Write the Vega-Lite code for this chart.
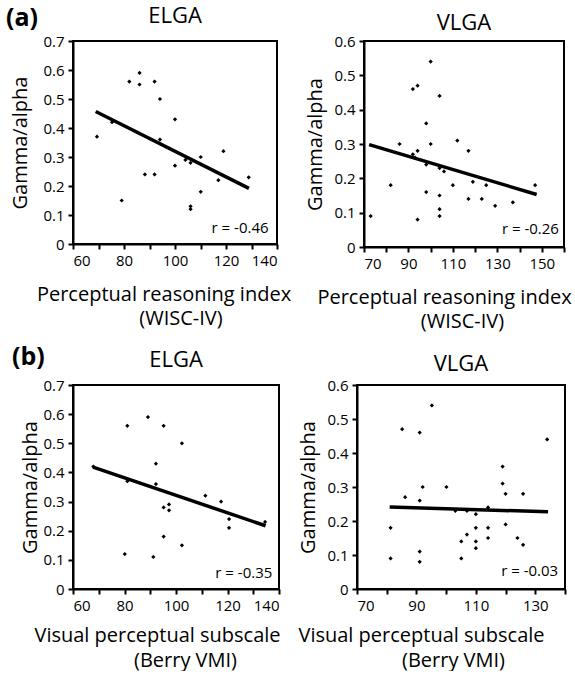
{
"$schema": "https://vega.github.io/schema/vega-lite/v6.json",
"background": "white",
"padding": {"left": 5, "top": 4, "right": 0, "bottom": 0},
"config": {
  "font": "Open Sans",
  "view": {"stroke": "black", "strokeWidth": 2},
  "axis": {"grid": false, "domainColor": "black", "domainWidth": 2, "tickColor": "black", "tickWidth": 2, "tickSize": 5,
           "labelFont": "Open Sans", "labelFontSize": 15, "labelColor": "black", "labelPadding": 4, "labelOverlap": false,
           "titleFont": "Open Sans", "titleFontSize": 20, "titleFontWeight": "normal", "titleColor": "black"},
  "title": {"font": "Open Sans", "fontWeight": "normal", "fontSize": 22, "color": "black"}
},
"datasets": {
  "pts": [
    {"panel":"a1","x":69.4,"y":0.37},{"panel":"a1","x":75.3,"y":0.42},{"panel":"a1","x":79.1,"y":0.15},{"panel":"a1","x":82.1,"y":0.56},
    {"panel":"a1","x":86.1,"y":0.59},{"panel":"a1","x":86.1,"y":0.55},{"panel":"a1","x":88.2,"y":0.24},{"panel":"a1","x":92.0,"y":0.56},
    {"panel":"a1","x":92.0,"y":0.24},{"panel":"a1","x":94.1,"y":0.50},{"panel":"a1","x":94.1,"y":0.36},{"panel":"a1","x":100.0,"y":0.43},
    {"panel":"a1","x":100.0,"y":0.27},{"panel":"a1","x":104.1,"y":0.29},{"panel":"a1","x":106.1,"y":0.28},{"panel":"a1","x":106.1,"y":0.13},
    {"panel":"a1","x":106.1,"y":0.12},{"panel":"a1","x":110.1,"y":0.30},{"panel":"a1","x":110.1,"y":0.18},{"panel":"a1","x":117.0,"y":0.22},
    {"panel":"a1","x":119.0,"y":0.32},{"panel":"a1","x":128.9,"y":0.23},
    {"panel":"a2","x":73,"y":0.09},{"panel":"a2","x":82,"y":0.18},{"panel":"a2","x":86,"y":0.30},{"panel":"a2","x":92,"y":0.46},
    {"panel":"a2","x":92,"y":0.27},{"panel":"a2","x":94.1,"y":0.47},{"panel":"a2","x":94.1,"y":0.28},{"panel":"a2","x":94.1,"y":0.08},
    {"panel":"a2","x":93,"y":0.26},{"panel":"a2","x":98,"y":0.36},{"panel":"a2","x":98,"y":0.24},{"panel":"a2","x":98,"y":0.16},
    {"panel":"a2","x":100,"y":0.54},{"panel":"a2","x":100,"y":0.30},{"panel":"a2","x":104,"y":0.44},{"panel":"a2","x":104,"y":0.23},
    {"panel":"a2","x":104,"y":0.15},{"panel":"a2","x":104,"y":0.11},{"panel":"a2","x":104,"y":0.09},{"panel":"a2","x":106,"y":0.22},
    {"panel":"a2","x":110,"y":0.18},{"panel":"a2","x":112,"y":0.31},{"panel":"a2","x":117,"y":0.28},{"panel":"a2","x":117,"y":0.14},
    {"panel":"a2","x":119,"y":0.19},{"panel":"a2","x":123,"y":0.14},{"panel":"a2","x":125,"y":0.18},{"panel":"a2","x":129,"y":0.12},
    {"panel":"a2","x":137,"y":0.13},{"panel":"a2","x":147,"y":0.18},
    {"panel":"b1","x":67.9,"y":0.42},{"panel":"b1","x":81.1,"y":0.56},{"panel":"b1","x":81.1,"y":0.37},{"panel":"b1","x":80.1,"y":0.12},
    {"panel":"b1","x":89.1,"y":0.59},{"panel":"b1","x":92.2,"y":0.43},{"panel":"b1","x":92.2,"y":0.36},{"panel":"b1","x":91.2,"y":0.11},
    {"panel":"b1","x":95.2,"y":0.56},{"panel":"b1","x":95.2,"y":0.28},{"panel":"b1","x":95.2,"y":0.18},{"panel":"b1","x":97.3,"y":0.29},
    {"panel":"b1","x":97.3,"y":0.27},{"panel":"b1","x":102.3,"y":0.50},{"panel":"b1","x":102.3,"y":0.15},{"panel":"b1","x":111.4,"y":0.32},
    {"panel":"b1","x":117.5,"y":0.30},{"panel":"b1","x":120.6,"y":0.24},{"panel":"b1","x":120.6,"y":0.21},{"panel":"b1","x":134.6,"y":0.23},
    {"panel":"b2","x":81.3,"y":0.18},{"panel":"b2","x":81.3,"y":0.09},{"panel":"b2","x":85.2,"y":0.47},{"panel":"b2","x":86.2,"y":0.27},
    {"panel":"b2","x":91.1,"y":0.46},{"panel":"b2","x":91.1,"y":0.26},{"panel":"b2","x":91.1,"y":0.11},{"panel":"b2","x":91.1,"y":0.08},
    {"panel":"b2","x":92.1,"y":0.30},{"panel":"b2","x":95.2,"y":0.54},{"panel":"b2","x":100.1,"y":0.30},{"panel":"b2","x":103.1,"y":0.23},
    {"panel":"b2","x":105.1,"y":0.14},{"panel":"b2","x":105.1,"y":0.09},{"panel":"b2","x":107,"y":0.16},{"panel":"b2","x":107,"y":0.23},
    {"panel":"b2","x":110,"y":0.22},{"panel":"b2","x":110,"y":0.18},{"panel":"b2","x":110,"y":0.14},{"panel":"b2","x":110,"y":0.12},
    {"panel":"b2","x":114.1,"y":0.24},{"panel":"b2","x":114.1,"y":0.18},{"panel":"b2","x":114.1,"y":0.15},{"panel":"b2","x":119,"y":0.36},
    {"panel":"b2","x":119,"y":0.31},{"panel":"b2","x":120,"y":0.28},{"panel":"b2","x":120,"y":0.19},{"panel":"b2","x":124,"y":0.15},
    {"panel":"b2","x":125.9,"y":0.28},{"panel":"b2","x":125.9,"y":0.13},{"panel":"b2","x":134,"y":0.44}
  ],
  "fits": [
    {"panel":"a1","x":68.9,"y":0.457},{"panel":"a1","x":129.0,"y":0.192},
    {"panel":"a2","x":72.3,"y":0.298},{"panel":"a2","x":147.7,"y":0.153},
    {"panel":"b1","x":67.8,"y":0.418},{"panel":"b1","x":134.8,"y":0.217},
    {"panel":"b2","x":81.0,"y":0.241},{"panel":"b2","x":134.3,"y":0.227}
  ],
  "stats": [
    {"panel":"a1","label":"r = -0.46"},{"panel":"a2","label":"r = -0.26"},
    {"panel":"b1","label":"r = -0.35"},{"panel":"b2","label":"r = -0.03"}
  ]
},
"vconcat": [
 {
  "title": {"text": "(a)", "anchor": "start", "fontSize": 25, "fontWeight": "bold", "offset": -27, "dx": -4},
  "spacing": 12,
  "hconcat": [
   {
    "width": 204, "height": 203,
    "title": {"text": "ELGA", "offset": 6},
    "resolve": {"axis": {"x": "independent"}},
    "layer": [
     {"data": {"name": "pts"}, "transform": [{"filter": "datum.panel == 'a1'"}],
      "mark": {"type": "point", "shape": "diamond", "filled": true, "color": "black", "size": 18, "opacity": 1},
      "encoding": {
        "x": {"field": "x", "type": "quantitative", "scale": {"domain": [60, 140], "nice": false, "zero": false},
              "axis": {"values": [60,70,80,90,100,110,120,130,140], "labelExpr": "datum.value % 20 == 0 ? datum.label : ''",
                       "title": "Perceptual reasoning index", "titleX": 90.5, "titleY": 56, "titleBaseline": "alphabetic", "titleAlign": "center"}},
        "y": {"field": "y", "type": "quantitative", "scale": {"domain": [0, 0.7], "nice": false, "zero": true},
              "axis": {"values": [0,0.1,0.2,0.3,0.4,0.5,0.6,0.7], "tickCount": 8, "format": ".1~f", "title": "Gamma/alpha", "titlePadding": 12}}
      }},
     {"data": {"name": "fits"}, "transform": [{"filter": "datum.panel == 'a1'"}],
      "mark": {"type": "line", "color": "black", "strokeWidth": 3.5},
      "encoding": {"x": {"field": "x", "type": "quantitative",
                         "axis": {"orient": "bottom", "domain": false, "ticks": false, "labels": false,
                                  "title": "(WISC-IV)", "titleX": 107.5, "titleY": 80, "titleBaseline": "alphabetic", "titleAlign": "center"}},
                   "y": {"field": "y", "type": "quantitative",
                         "axis": {"values": [0,0.1,0.2,0.3,0.4,0.5,0.6,0.7], "tickCount": 8, "format": ".1~f", "title": "Gamma/alpha", "titlePadding": 12}}}},
     {"data": {"name": "stats"}, "transform": [{"filter": "datum.panel == 'a1'"}],
      "mark": {"type": "text", "align": "right", "baseline": "alphabetic", "fontSize": 15, "color": "black"},
      "encoding": {"x": {"datum": 136.7, "axis": null},
                   "y": {"datum": 0.037, "axis": {"values": [0,0.1,0.2,0.3,0.4,0.5,0.6,0.7], "tickCount": 8, "format": ".1~f", "title": "Gamma/alpha", "titlePadding": 12}},
                   "text": {"field": "label"}}}
    ]
   },
   {
    "width": 200, "height": 206,
    "title": {"text": "VLGA", "offset": -1},
    "resolve": {"axis": {"x": "independent"}},
    "layer": [
     {"data": {"name": "pts"}, "transform": [{"filter": "datum.panel == 'a2'"}],
      "mark": {"type": "point", "shape": "diamond", "filled": true, "color": "black", "size": 18, "opacity": 1},
      "encoding": {
        "x": {"field": "x", "type": "quantitative", "scale": {"domain": [70, 160], "nice": false, "zero": false},
              "axis": {"values": [70,80,90,100,110,120,130,140,150,160], "labelExpr": "datum.value % 20 == 10 ? datum.label : ''",
                       "title": "Perceptual reasoning index", "titleX": 80, "titleY": 56, "titleBaseline": "alphabetic", "titleAlign": "center"}},
        "y": {"field": "y", "type": "quantitative", "scale": {"domain": [0, 0.6], "nice": false, "zero": true},
              "axis": {"values": [0,0.1,0.2,0.3,0.4,0.5,0.6], "tickCount": 7, "format": ".1~f", "title": "Gamma/alpha", "titlePadding": 8}}
      }},
     {"data": {"name": "fits"}, "transform": [{"filter": "datum.panel == 'a2'"}],
      "mark": {"type": "line", "color": "black", "strokeWidth": 3.5},
      "encoding": {"x": {"field": "x", "type": "quantitative",
                         "axis": {"orient": "bottom", "domain": false, "ticks": false, "labels": false,
                                  "title": "(WISC-IV)", "titleX": 98, "titleY": 80, "titleBaseline": "alphabetic", "titleAlign": "center"}},
                   "y": {"field": "y", "type": "quantitative",
                         "axis": {"values": [0,0.1,0.2,0.3,0.4,0.5,0.6], "tickCount": 7, "format": ".1~f", "title": "Gamma/alpha", "titlePadding": 8}}}},
     {"data": {"name": "stats"}, "transform": [{"filter": "datum.panel == 'a2'"}],
      "mark": {"type": "text", "align": "right", "baseline": "alphabetic", "fontSize": 15, "color": "black"},
      "encoding": {"x": {"datum": 157.7, "axis": null},
                   "y": {"datum": 0.037, "axis": {"values": [0,0.1,0.2,0.3,0.4,0.5,0.6], "tickCount": 7, "format": ".1~f", "title": "Gamma/alpha", "titlePadding": 8}},
                   "text": {"field": "label"}}}
    ]
   }
  ]
 },
 {
  "title": {"text": "(b)", "anchor": "start", "fontSize": 25, "fontWeight": "bold", "offset": -22, "dx": -8},
  "spacing": 14,
  "hconcat": [
   {
    "width": 206, "height": 204,
    "title": {"text": "ELGA", "offset": 6},
    "resolve": {"axis": {"x": "independent"}},
    "layer": [
     {"data": {"name": "pts"}, "transform": [{"filter": "datum.panel == 'b1'"}],
      "mark": {"type": "point", "shape": "diamond", "filled": true, "color": "black", "size": 18, "opacity": 1},
      "encoding": {
        "x": {"field": "x", "type": "quantitative", "scale": {"domain": [60, 140], "nice": false, "zero": false},
              "axis": {"values": [60,70,80,90,100,110,120,130,140], "labelExpr": "datum.value % 20 == 0 ? datum.label : ''",
                       "title": "Visual perceptual subscale", "titleX": 84, "titleY": 52, "titleBaseline": "alphabetic", "titleAlign": "center"}},
        "y": {"field": "y", "type": "quantitative", "scale": {"domain": [0, 0.7], "nice": false, "zero": true},
              "axis": {"values": [0,0.1,0.2,0.3,0.4,0.5,0.6,0.7], "tickCount": 8, "format": ".1~f", "title": "Gamma/alpha", "titlePadding": 2}}
      }},
     {"data": {"name": "fits"}, "transform": [{"filter": "datum.panel == 'b1'"}],
      "mark": {"type": "line", "color": "black", "strokeWidth": 3.5},
      "encoding": {"x": {"field": "x", "type": "quantitative",
                         "axis": {"orient": "bottom", "domain": false, "ticks": false, "labels": false,
                                  "title": "(Berry VMI)", "titleX": 112, "titleY": 77, "titleBaseline": "alphabetic", "titleAlign": "center"}},
                   "y": {"field": "y", "type": "quantitative",
                         "axis": {"values": [0,0.1,0.2,0.3,0.4,0.5,0.6,0.7], "tickCount": 8, "format": ".1~f", "title": "Gamma/alpha", "titlePadding": 2}}}},
     {"data": {"name": "stats"}, "transform": [{"filter": "datum.panel == 'b1'"}],
      "mark": {"type": "text", "align": "right", "baseline": "alphabetic", "fontSize": 15, "color": "black"},
      "encoding": {"x": {"datum": 137.4, "axis": null},
                   "y": {"datum": 0.037, "axis": {"values": [0,0.1,0.2,0.3,0.4,0.5,0.6,0.7], "tickCount": 8, "format": ".1~f", "title": "Gamma/alpha", "titlePadding": 2}},
                   "text": {"field": "label"}}}
    ]
   },
   {
    "width": 208, "height": 204,
    "title": {"text": "VLGA", "offset": 2},
    "resolve": {"axis": {"x": "independent"}},
    "layer": [
     {"data": {"name": "pts"}, "transform": [{"filter": "datum.panel == 'b2'"}],
      "mark": {"type": "point", "shape": "diamond", "filled": true, "color": "black", "size": 18, "opacity": 1},
      "encoding": {
        "x": {"field": "x", "type": "quantitative", "scale": {"domain": [70, 140], "nice": false, "zero": false},
              "axis": {"values": [70,80,90,100,110,120,130,140], "labelExpr": "datum.value % 20 == 10 ? datum.label : ''",
                       "title": "Visual perceptual subscale", "titleX": 64, "titleY": 52, "titleBaseline": "alphabetic", "titleAlign": "center"}},
        "y": {"field": "y", "type": "quantitative", "scale": {"domain": [0, 0.6], "nice": false, "zero": true},
              "axis": {"values": [0,0.1,0.2,0.3,0.4,0.5,0.6], "tickCount": 7, "format": ".1~f", "title": "Gamma/alpha", "titlePadding": 8}}
      }},
     {"data": {"name": "fits"}, "transform": [{"filter": "datum.panel == 'b2'"}],
      "mark": {"type": "line", "color": "black", "strokeWidth": 3.5},
      "encoding": {"x": {"field": "x", "type": "quantitative",
                         "axis": {"orient": "bottom", "domain": false, "ticks": false, "labels": false,
                                  "title": "(Berry VMI)", "titleX": 96, "titleY": 77, "titleBaseline": "alphabetic", "titleAlign": "center"}},
                   "y": {"field": "y", "type": "quantitative",
                         "axis": {"values": [0,0.1,0.2,0.3,0.4,0.5,0.6], "tickCount": 7, "format": ".1~f", "title": "Gamma/alpha", "titlePadding": 8}}}},
     {"data": {"name": "stats"}, "transform": [{"filter": "datum.panel == 'b2'"}],
      "mark": {"type": "text", "align": "right", "baseline": "alphabetic", "fontSize": 15, "color": "black"},
      "encoding": {"x": {"datum": 137.7, "axis": null},
                   "y": {"datum": 0.037, "axis": {"values": [0,0.1,0.2,0.3,0.4,0.5,0.6], "tickCount": 7, "format": ".1~f", "title": "Gamma/alpha", "titlePadding": 8}},
                   "text": {"field": "label"}}}
    ]
   }
  ]
 }
],
"spacing": 13
}
